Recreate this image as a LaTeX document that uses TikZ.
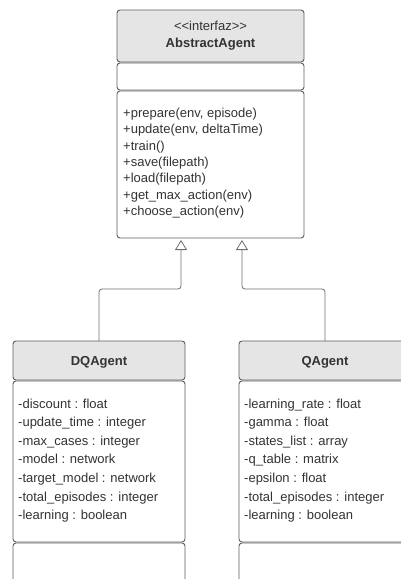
\documentclass[tikz,border=0pt]{standalone}
\usepackage{fontspec}
\setmainfont{Liberation Sans}
\usetikzlibrary{arrows.meta,calc}
\definecolor{umlline}{HTML}{5E5E5E}
\definecolor{umlhead}{HTML}{E5E5E5}
\definecolor{umltext}{HTML}{333333}
\definecolor{umlconn}{HTML}{6E6E6E}
\tikzset{
  umlbox/.style={draw=umlline, line width=0.9pt, rounded corners=3pt,
    rectangle, anchor=north west, inner sep=0pt, outer sep=0pt},
  umlheadbox/.style={umlbox, fill=umlhead},
  umlpart/.style={umlbox, fill=white},
  txt/.style={anchor=base west, inner sep=0pt, text=umltext,
    font=\fontsize{13}{16}\selectfont},
  ctxt/.style={anchor=base, inner sep=0pt, text=umltext,
    font=\fontsize{13}{16}\selectfont},
  btxt/.style={ctxt, font=\fontsize{13}{16}\selectfont\bfseries},
  inherit/.style={draw=umlconn, line width=0.8pt, rounded corners=3pt,
    -{Triangle[open, width=12pt, length=10pt, line width=0.8pt]}}
}
\begin{document}
\begin{tikzpicture}[x=1pt, y=-1pt]
\useasboundingbox (0,0) rectangle (400,579);

% AbstractAgent interface
\node[umlheadbox, minimum width=187pt, minimum height=52pt] (ah) at (117,10) {};
\node[umlpart, minimum width=187pt, minimum height=27pt] (aa) at (117,63) {};
\node[umlpart, minimum width=187pt, minimum height=147pt] (am) at (117,91) {};
\node[ctxt] (ast) at (210.5,30) {<{}<interfaz>{}>};
\node[btxt] (aname) at (210.5,47.5) {AbstractAgent};
\foreach \t [count=\i from 0] in {+prepare(env{,} episode), +update(env{,} deltaTime),
    +train(), +save(filepath), +load(filepath), +get\_max\_action(env),
    +choose\_action(env)}
  \node[txt] (am\i) at (123,117.5+16.3*\i) {\t};

% DQAgent class
\node[umlheadbox, minimum width=172pt, minimum height=39pt] (dh) at (13,341) {};
\node[umlpart, minimum width=172pt, minimum height=161pt] (da) at (13,381) {};
\node[umlpart, minimum width=172pt, minimum height=60pt] (dm) at (13,543) {};
\node[btxt] (dname) at (99,365) {DQAgent};
\foreach \t [count=\i from 0] in {-discount : float, -update\_time : integer,
    -max\_cases : integer, -model : network, -target\_model : network,
    -total\_episodes : integer, -learning : boolean}
  \node[txt] (da\i) at (18,408+18.6*\i) {\t};

% QAgent class
\node[umlheadbox, minimum width=172pt, minimum height=39pt] (qh) at (239,341) {};
\node[umlpart, minimum width=172pt, minimum height=161pt] (qa) at (239,381) {};
\node[umlpart, minimum width=172pt, minimum height=60pt] (qm) at (239,543) {};
\node[btxt] (qname) at (325,365) {QAgent};
\foreach \t [count=\i from 0] in {-learning\_rate : float, -gamma : float,
    -states\_list : array, -q\_table : matrix, -epsilon : float,
    -total\_episodes : integer, -learning : boolean}
  \node[txt] (qa\i) at (244,408+18.6*\i) {\t};

% realization arrows
\coordinate (inL) at ($(am.south west)+(64,2)$);
\coordinate (inR) at ($(am.south west)+(125,2)$);
\draw[inherit] (dh.north) -- ++(0,-52) -| (inL);
\draw[inherit] (qh.north) -- ++(0,-52) -| (inR);
\end{tikzpicture}
\end{document}
